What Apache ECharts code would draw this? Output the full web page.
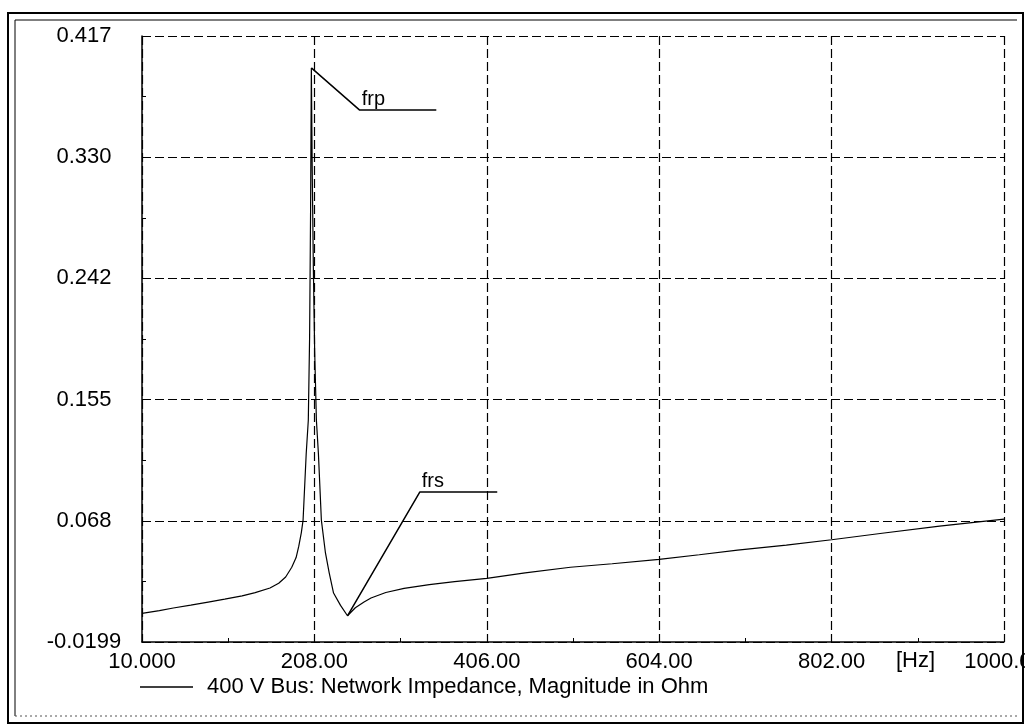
<!DOCTYPE html>
<html>
<head>
<meta charset="utf-8">
<script src="https://cdn.jsdelivr.net/npm/echarts@6/dist/echarts.min.js"></script>
<style>
  html, body { margin: 0; padding: 0; background: #fff; }
  #chart { width: 1025px; height: 724px; }
</style>
</head>
<body>
<div id="chart"></div>
<script>
// frequency sweep [Hz] and impedance magnitude [Ohm]
const freqHz = [10, 30, 46, 66, 86, 105, 125, 140, 157, 167, 175, 182, 187, 190, 193, 195,
  198.6, 201, 202.5, 203.6, 204.5, 205.5, 206.8, 208.3, 210.3, 212.6, 216, 220.7, 225, 230,
  238, 246, 255, 265, 273, 290, 311, 340, 369, 406, 450, 502, 550, 604, 650, 694, 750, 802,
  860, 926, 1000]
const impedance = [0.0008, 0.0027, 0.0046, 0.0067, 0.0089, 0.011, 0.0133, 0.0157, 0.019,
  0.0225, 0.027, 0.034, 0.041, 0.049, 0.059, 0.068, 0.116, 0.14, 0.2, 0.29, 0.394, 0.32,
  0.25, 0.19, 0.14, 0.116, 0.068, 0.0443, 0.030, 0.0154, 0.0065, -0.001, 0.0048, 0.0090,
  0.0118, 0.0158, 0.0188, 0.0215, 0.0236, 0.026, 0.030, 0.034, 0.0365, 0.0397, 0.043,
  0.0464, 0.050, 0.0538, 0.0585, 0.0637, 0.0687]

// leader lines for the two resonance markers
const frpLine = [[204.5, 0.394], [260, 0.3636], [348, 0.3636]]
const frsLine = [[246, -0.001], [329, 0.0882], [418, 0.0882]]

const xTickLabels = ['10.000', '208.00', '406.00', '604.00', '802.00', '1000.00']
const yTickLabels = ['-0.0199', '0.068', '0.155', '0.242', '0.330', '0.417']
const seriesName = '400 V Bus: Network Impedance, Magnitude in Ohm'

const xMin = 10, xMax = 1000
const yMin = -0.0199, yMax = 0.417
const xStep = (xMax - xMin) / 5
const yStep = (yMax - yMin) / 5

const FONT = '"Liberation Sans", Arial, sans-serif'

const curve = freqHz.map((f, i) => [f, impedance[i]])

function leader(points, text) {
  return {
    type: 'line',
    data: points.map((p, i) => i === 1 ? {
      value: p,
      label: {
        show: true, formatter: text, position: 'top', align: 'left',
        offset: [2, 0], distance: 0,
        color: '#000', fontSize: 20, fontFamily: FONT
      }
    } : p),
    symbol: 'circle',
    symbolSize: 1,
    showSymbol: true,
    itemStyle: { color: 'rgba(0,0,0,0)' },
    silent: true,
    lineStyle: { color: '#000', width: 1.5 },
    z: 3
  }
}

const option = {
  backgroundColor: '#fff',
  animation: false,
  grid: { left: 142, right: 21, top: 36, bottom: 82, outerBoundsMode: 'none', containLabel: false },
  legend: {
    data: [seriesName],
    left: 135,
    top: 671,
    icon: 'rect',
    itemWidth: 53,
    itemHeight: 1.5,
    textStyle: { color: '#000', fontSize: 22, fontFamily: FONT, padding: [0, 0, 0, 9] }
  },
  xAxis: {
    type: 'value',
    min: xMin,
    max: xMax,
    interval: xStep,
    axisLine: { onZero: false, lineStyle: { color: '#000', width: 1.5 } },
    axisTick: { show: false, inside: true },
    minorTick: { show: true, splitNumber: 2, length: 4, lineStyle: { color: '#000', width: 1 } },
    splitLine: { show: true, lineStyle: { color: '#000', width: 1.2, type: [9, 4] } },
    axisLabel: {
      margin: 9,
      color: '#000',
      fontSize: 22,
      fontFamily: FONT,
      showMinLabel: true,
      showMaxLabel: true,
      hideOverlap: false,
      formatter: v => xTickLabels[Math.round((v - xMin) / xStep)]
    }
  },
  yAxis: {
    type: 'value',
    min: yMin,
    max: yMax,
    interval: yStep,
    axisLine: { show: true, onZero: false, lineStyle: { color: '#000', width: 1.5 } },
    axisTick: { show: false, inside: true },
    minorTick: { show: true, splitNumber: 2, length: 4, lineStyle: { color: '#000', width: 1 } },
    splitLine: { show: true, lineStyle: { color: '#000', width: 1.2, type: [9, 4] } },
    axisLabel: {
      margin: 58,
      align: 'center',
      color: '#000',
      fontSize: 22,
      fontFamily: FONT,
      showMinLabel: true,
      showMaxLabel: true,
      formatter: v => yTickLabels[Math.round((v - yMin) / yStep)]
    }
  },
  graphic: [
    { type: 'text', left: 896, top: 650,
      style: { text: '[Hz]', fill: '#000', fontSize: 22, fontFamily: FONT } },
    { type: 'rect', shape: { x: 8, y: 13, width: 1015, height: 710 },
      style: { fill: 'none', stroke: '#000', lineWidth: 2 }, silent: true },
    { type: 'polyline', shape: { points: [[15, 716], [15, 20], [1017, 20]] },
      style: { fill: 'none', stroke: '#000', lineWidth: 1 }, silent: true },
    { type: 'polyline', shape: { points: [[15, 716], [1017, 716]] },
      style: { fill: 'none', stroke: '#555', lineWidth: 1, lineDash: [2, 3] }, silent: true }
  ],
  series: [
    {
      name: seriesName,
      type: 'line',
      data: curve,
      symbol: 'none',
      lineStyle: { color: '#000', width: 1.2 },
      itemStyle: { color: '#000' },
      z: 4
    },
    leader(frpLine, 'frp'),
    leader(frsLine, 'frs')
  ]
}

const chart = echarts.init(document.getElementById('chart'))
chart.setOption(option)
window.onresize = function () {
  chart.resize()
}
</script>
</body>
</html>
